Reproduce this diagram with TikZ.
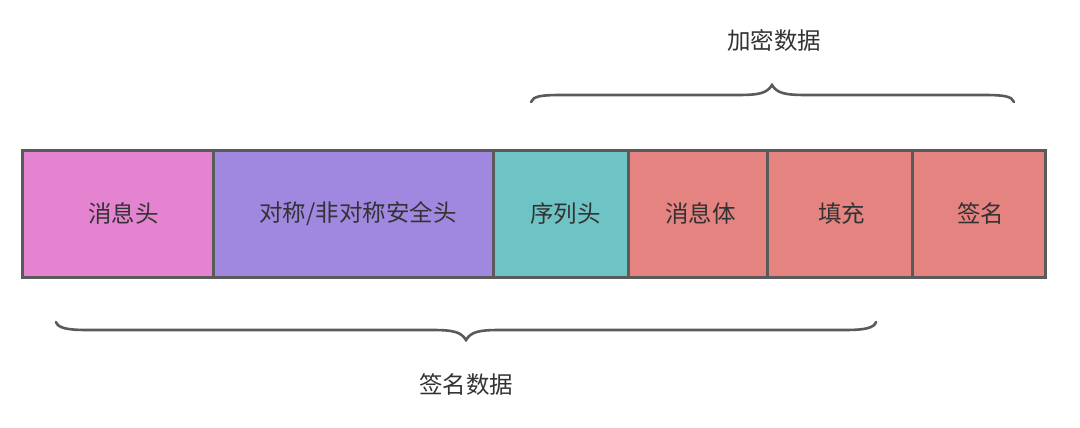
\documentclass[tikz,border=0pt]{standalone}
\usepackage{fontspec}
\setmainfont{Noto Sans CJK SC}
\definecolor{lineg}{HTML}{5A5A5A}
\definecolor{txt}{HTML}{333333}
\definecolor{cpink}{HTML}{E484D0}
\definecolor{cpurple}{HTML}{A088E0}
\definecolor{cteal}{HTML}{6EC4C4}
\definecolor{cred}{HTML}{E4837F}
\begin{document}
\begin{tikzpicture}[x=1pt,y=-1pt,
  seg/.style={draw=lineg, line width=3pt, minimum height=127pt, inner sep=0pt, outer sep=0pt, text=txt, font=\fontsize{23.5}{26}\selectfont},
  lbl/.style={text=txt, font=\fontsize{23.5}{26}\selectfont, inner sep=0pt},
  brace/.style={draw=lineg, line width=2.6pt, line cap=round}]
\useasboundingbox (0,0) rectangle (1080,428);
\node[seg, fill=cpink, minimum width=191pt] (s1) at (117.5,213.5) {\hspace{12pt}消息头};
\node[seg, fill=cpurple, minimum width=280pt] (s2) at (353,213.5) {\hspace{10pt}对称/非对称安全头};
\node[seg, fill=cteal, minimum width=135pt] (s3) at (560.5,213.5) {\hspace{10pt}序列头};
\node[seg, fill=cred, minimum width=139pt] (s4) at (697.5,213.5) {\hspace{6pt}消息体};
\node[seg, fill=cred, minimum width=145pt] (s5) at (839.5,213.5) {\hspace{4pt}填充};
\node[seg, fill=cred, minimum width=133pt] (s6) at (978.5,213.5) {\hspace{4pt}签名};
% top brace
\coordinate (tl) at (531,102);
\coordinate (tt) at (772,85);
\coordinate (tr) at (1014,102);
\draw[brace] (tl) .. controls (533,96) and (542,95) .. (562,95) -- (738,95)
  .. controls (760,95) and (767,93) .. (tt) .. controls (777,93) and (784,95) .. (806,95)
  -- (983,95) .. controls (1003,95) and (1012,96) .. (tr);
\node[lbl] (enc) at (774,40) {加密数据};
% bottom brace
\coordinate (bl) at (56,322);
\coordinate (bt) at (466,340);
\coordinate (br) at (876,322);
\draw[brace] (bl) .. controls (58,328) and (67,330) .. (87,330) -- (432,330)
  .. controls (454,330) and (461,332) .. (bt) .. controls (471,332) and (478,330) .. (500,330)
  -- (845,330) .. controls (865,330) and (874,328) .. (br);
\node[lbl] (sig) at (466,385) {签名数据};
\end{tikzpicture}
\end{document}
